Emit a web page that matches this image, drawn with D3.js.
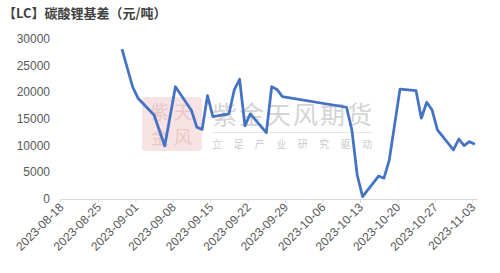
<!DOCTYPE html>
<html><head><meta charset="utf-8">
<script src="https://cdn.jsdelivr.net/npm/d3@7"></script>
<style>body{margin:0;background:#fff}svg{display:block;font-family:"Liberation Sans",Arial,sans-serif}</style>
</head><body><svg id="c" width="500" height="273"></svg>
<script>
const title = "【LC】碳酸锂基差（元/吨）";
const dates = ["2023-08-29","2023-08-31","2023-09-01","2023-09-04","2023-09-06","2023-09-08","2023-09-11","2023-09-12","2023-09-13","2023-09-14","2023-09-15","2023-09-18","2023-09-19","2023-09-20","2023-09-21","2023-09-22","2023-09-25","2023-09-26","2023-09-27","2023-09-28","2023-10-10","2023-10-11","2023-10-12","2023-10-13","2023-10-16","2023-10-17","2023-10-18","2023-10-20","2023-10-23","2023-10-24","2023-10-25","2023-10-26","2023-10-27","2023-10-30","2023-10-31","2023-11-01","2023-11-02","2023-11-03"];
const values = [28100,21000,18900,15750,9950,21050,16600,13450,13050,19400,15450,15950,20450,22450,13700,15950,12450,21050,20550,19200,17200,12950,4500,450,4300,3900,7300,20600,20300,15150,18150,16700,12950,9200,11250,10000,10750,10250];
const yTicks = [0,5000,10000,15000,20000,25000,30000];
const xTickLabels = ["2023-08-18","2023-08-25","2023-09-01","2023-09-08","2023-09-15","2023-09-22","2023-09-29","2023-10-06","2023-10-13","2023-10-20","2023-10-27","2023-11-03"];
const sealChars = ["紫","天","金","风"];

const parse = d3.utcParse("%Y-%m-%d");
const svg = d3.select("#c");
const x = d3.scaleUtc().domain([parse("2023-08-18"), parse("2023-11-04")]).range([60.5, 477.5]);
const y = d3.scaleLinear().domain([0,30000]).range([199, 39]);
const xc = d => x(d3.utcHour.offset(parse(d), 12));

// watermark
const wm = svg.append("g").attr("font-family","Noto Sans CJK SC");
wm.append("rect").attr("x",142).attr("y",97).attr("width",60).attr("height",54).attr("rx",4).attr("fill","#f7e3e3");
wm.selectAll("text.s").data(sealChars).join("text").attr("class","s")
  .attr("x",(d,i)=>151+(i%2)*23).attr("y",(d,i)=>119+Math.floor(i/2)*25)
  .attr("font-size",18).attr("fill","#ecc6c6").text(d=>d);
wm.append("text").attr("x",212).attr("y",124).attr("font-size",25).attr("fill","#d4d4d4").attr("textLength",160).text("紫金天风期货");
wm.append("line").attr("x1",212).attr("x2",373).attr("y1",132.5).attr("y2",132.5).attr("stroke","#e6e6e6");
wm.append("text").attr("x",212).attr("y",148).attr("font-size",10).attr("fill","#cccccc").attr("textLength",160).text("立 足 产 业  研 究 驱 动");

// title
svg.append("text").attr("x",3).attr("y",18).attr("font-size",13).attr("fill","#404040").attr("font-family","Noto Sans CJK SC").attr("font-weight","bold").text(title);

// y labels
svg.append("g").selectAll("text").data(yTicks).join("text")
  .attr("x",50).attr("y",d=>y(d)+4).attr("text-anchor","end").attr("font-size",12).attr("fill","#595959").text(d=>d);

// x axis
const xt = xTickLabels.map(parse);
const ax = svg.append("g").attr("transform","translate(0,199)")
  .call(d3.axisBottom(x).tickValues(xt).tickSize(4).tickFormat(""));
ax.select(".domain").attr("stroke","#d9d9d9").attr("d","M60.5,0.5H477.5");
ax.selectAll(".tick line").attr("stroke","#d9d9d9");
svg.append("g").selectAll("text").data(xTickLabels).join("text")
  .attr("transform",d=>`translate(${x(parse(d))+4},${208}) rotate(-45)`)
  .attr("text-anchor","end").attr("font-size",12).attr("fill","#595959").text(d=>d);

// line
const line = d3.line().x((d,i)=>xc(dates[i])).y(d=>y(d));
svg.append("path").datum(values).attr("d",line).attr("fill","none").attr("stroke","#4472C4").attr("stroke-width",2.75).attr("stroke-linejoin","round");
</script></body></html>
